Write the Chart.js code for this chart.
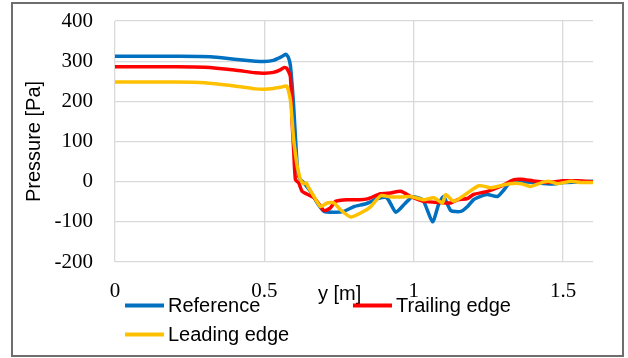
<!DOCTYPE html>
<html>
<head>
<meta charset="utf-8">
<script src="https://cdn.jsdelivr.net/npm/chart.js@4"></script>
<style>
  html, body { margin: 0; padding: 0; background: #fff; }
  #frame { position: absolute; left: 11px; top: 2px; width: 613px; height: 355px; box-sizing: border-box; border: 2px solid #6e6e6e; }
  #pressureChart { position: absolute; left: 0; top: 0; }
</style>
</head>
<body>
<div id="frame"></div>
<canvas id="pressureChart" width="628" height="358"></canvas>
<script>
// Values
var seriesLabels = ['Reference', 'Trailing edge', 'Leading edge'];
var seriesColors = ['#0070C0', '#FF0000', '#FFC000'];

var refX = [0, 0.1, 0.2, 0.32, 0.4, 0.47, 0.5, 0.53, 0.555, 0.572, 0.58, 0.587, 0.593, 0.598, 0.604, 0.61, 0.615, 0.621, 0.632, 0.654, 0.677, 0.70, 0.733, 0.766, 0.80, 0.84, 0.88, 0.91, 0.94, 0.97, 0.995, 1.03, 1.063, 1.084, 1.10, 1.124, 1.158, 1.18, 1.20, 1.23, 1.247, 1.28, 1.30, 1.326, 1.36, 1.40, 1.46, 1.50, 1.55, 1.6];
var refY = [312, 312, 312, 311, 305, 300, 299, 302, 310, 317, 310, 290, 240, 188, 110, 38, 13, 5, -3, -24, -53, -74, -76, -74, -62, -55, -42, -40, -76, -55, -38, -45, -100, -55, -37, -72, -74, -62, -45, -35, -32, -37, -22, 1, 0, -2, -6, -2, -1, 1];

var trailX = [0, 0.2, 0.3, 0.4, 0.47, 0.5, 0.53, 0.555, 0.565, 0.575, 0.587, 0.593, 0.598, 0.604, 0.615, 0.626, 0.645, 0.666, 0.685, 0.70, 0.72, 0.738, 0.778, 0.82, 0.845, 0.889, 0.923, 0.956, 0.99, 1.034, 1.09, 1.124, 1.147, 1.18, 1.20, 1.247, 1.29, 1.336, 1.36, 1.40, 1.45, 1.50, 1.55, 1.6];
var trailY = [286, 286, 285, 278, 271, 270, 272, 279, 284, 282, 262, 147, 80, 5, -3, -24, -32, -40, -58, -72, -66, -49, -45, -45, -43, -30, -28, -24, -37, -49, -52, -53, -45, -42, -32, -24, -12, 5, 6, 2, -2, 2, 2, 0];

var leadX = [0, 0.2, 0.3, 0.4, 0.47, 0.5, 0.53, 0.56, 0.575, 0.587, 0.598, 0.61, 0.615, 0.621, 0.632, 0.64, 0.648, 0.666, 0.688, 0.71, 0.733, 0.755, 0.789, 0.822, 0.856, 0.889, 0.923, 0.96, 0.99, 1.034, 1.067, 1.096, 1.107, 1.134, 1.18, 1.218, 1.258, 1.29, 1.32, 1.36, 1.39, 1.426, 1.45, 1.48, 1.527, 1.56, 1.6];
var leadY = [248, 248, 246, 238, 231, 230, 232, 236, 238, 204, 105, 38, 22, 5, -5, -3, -15, -37, -62, -53, -53, -70, -88, -78, -62, -35, -38, -38, -37, -45, -40, -53, -32, -49, -28, -10, -15, -10, -5, -5, -12, -3, 1, -5, 1, -2, -2];

var xTickValues = [0, 0.5, 1, 1.5];

function toPoints(xs, ys) {
    return xs.map(function (x, i) { return { x: x, y: ys[i] }; });
}

(function () {
    var ctx = document.getElementById('pressureChart').getContext('2d');

    var seriesData = [toPoints(refX, refY), toPoints(trailX, trailY), toPoints(leadX, leadY)];
    var drawOrder = [3, 2, 1]; // leading edge ends up on top

    var datasets = seriesData.map(function (pts, i) {
        return {
            label: seriesLabels[i],
            data: pts,
            borderColor: seriesColors[i],
            backgroundColor: seriesColors[i],
            borderWidth: 3.5,
            pointRadius: 0,
            showLine: true,
            fill: false,
            tension: 0.2,
            order: drawOrder[i]
        };
    });

    // Excel-like legend and x title, placed by hand
    var legendSpots = [[125, 311.5], [353, 311.5], [125, 340.5]];
    var sans = '20px "Liberation Sans", Arial, sans-serif';
    var serif = '"Liberation Serif", "Times New Roman", serif';

    var overlayPlugin = {
        id: 'overlay',
        afterDraw: function (chart) {
            var c = chart.ctx;
            c.save();
            c.font = sans;
            c.fillStyle = '#000';
            c.textBaseline = 'alphabetic';
            c.textAlign = 'left';
            c.fillText('y [m]', 318, 299.5);

            chart.data.datasets.forEach(function (ds, i) {
                var sx = legendSpots[i][0], sy = legendSpots[i][1];
                c.strokeStyle = ds.borderColor;
                c.lineWidth = 4;
                c.beginPath();
                c.moveTo(sx, sy - 6);
                c.lineTo(sx + 39, sy - 6);
                c.stroke();
                c.fillStyle = '#000';
                c.fillText(ds.label, sx + 43, sy);
            });
            c.restore();
        }
    };

    new Chart(ctx, {
        type: 'scatter',
        data: { datasets: datasets },
        options: {
            responsive: false,
            animation: false,
            layout: { padding: { left: 0, top: 21, right: 35, bottom: 0 } },
            plugins: {
                legend: { display: false },
                tooltip: { enabled: false }
            },
            scales: {
                x: {
                    type: 'linear',
                    min: 0,
                    max: 1.6,
                    afterBuildTicks: function (axis) {
                        axis.ticks = xTickValues.map(function (v) { return { value: v }; });
                    },
                    afterFit: function (scale) { scale.height = 96; },
                    ticks: {
                        padding: 1,
                        color: '#000',
                        font: { family: serif, size: 21 },
                        callback: function (v) { return String(v); }
                    },
                    // invisible tick marks give the label gap
                    grid: { color: '#d9d9d9', lineWidth: 1.3, drawTicks: true, tickLength: 16, tickColor: 'rgba(0,0,0,0)' },
                    border: { display: false }
                },
                y: {
                    min: -200,
                    max: 400,
                    afterFit: function (scale) { scale.width = 115; },
                    ticks: {
                        stepSize: 100,
                        padding: 2,
                        color: '#000',
                        font: { family: serif, size: 21 }
                    },
                    grid: { color: '#d9d9d9', lineWidth: 1.3, drawTicks: true, tickLength: 20, tickColor: 'rgba(0,0,0,0)' },
                    border: { display: false },
                    title: {
                        display: true,
                        text: 'Pressure [Pa]',
                        color: '#000',
                        padding: { top: 22, bottom: 0 },
                        font: { family: '"Liberation Sans", Arial, sans-serif', size: 20 }
                    }
                }
            }
        },
        plugins: [overlayPlugin]
    });
})();
</script>
</body>
</html>
